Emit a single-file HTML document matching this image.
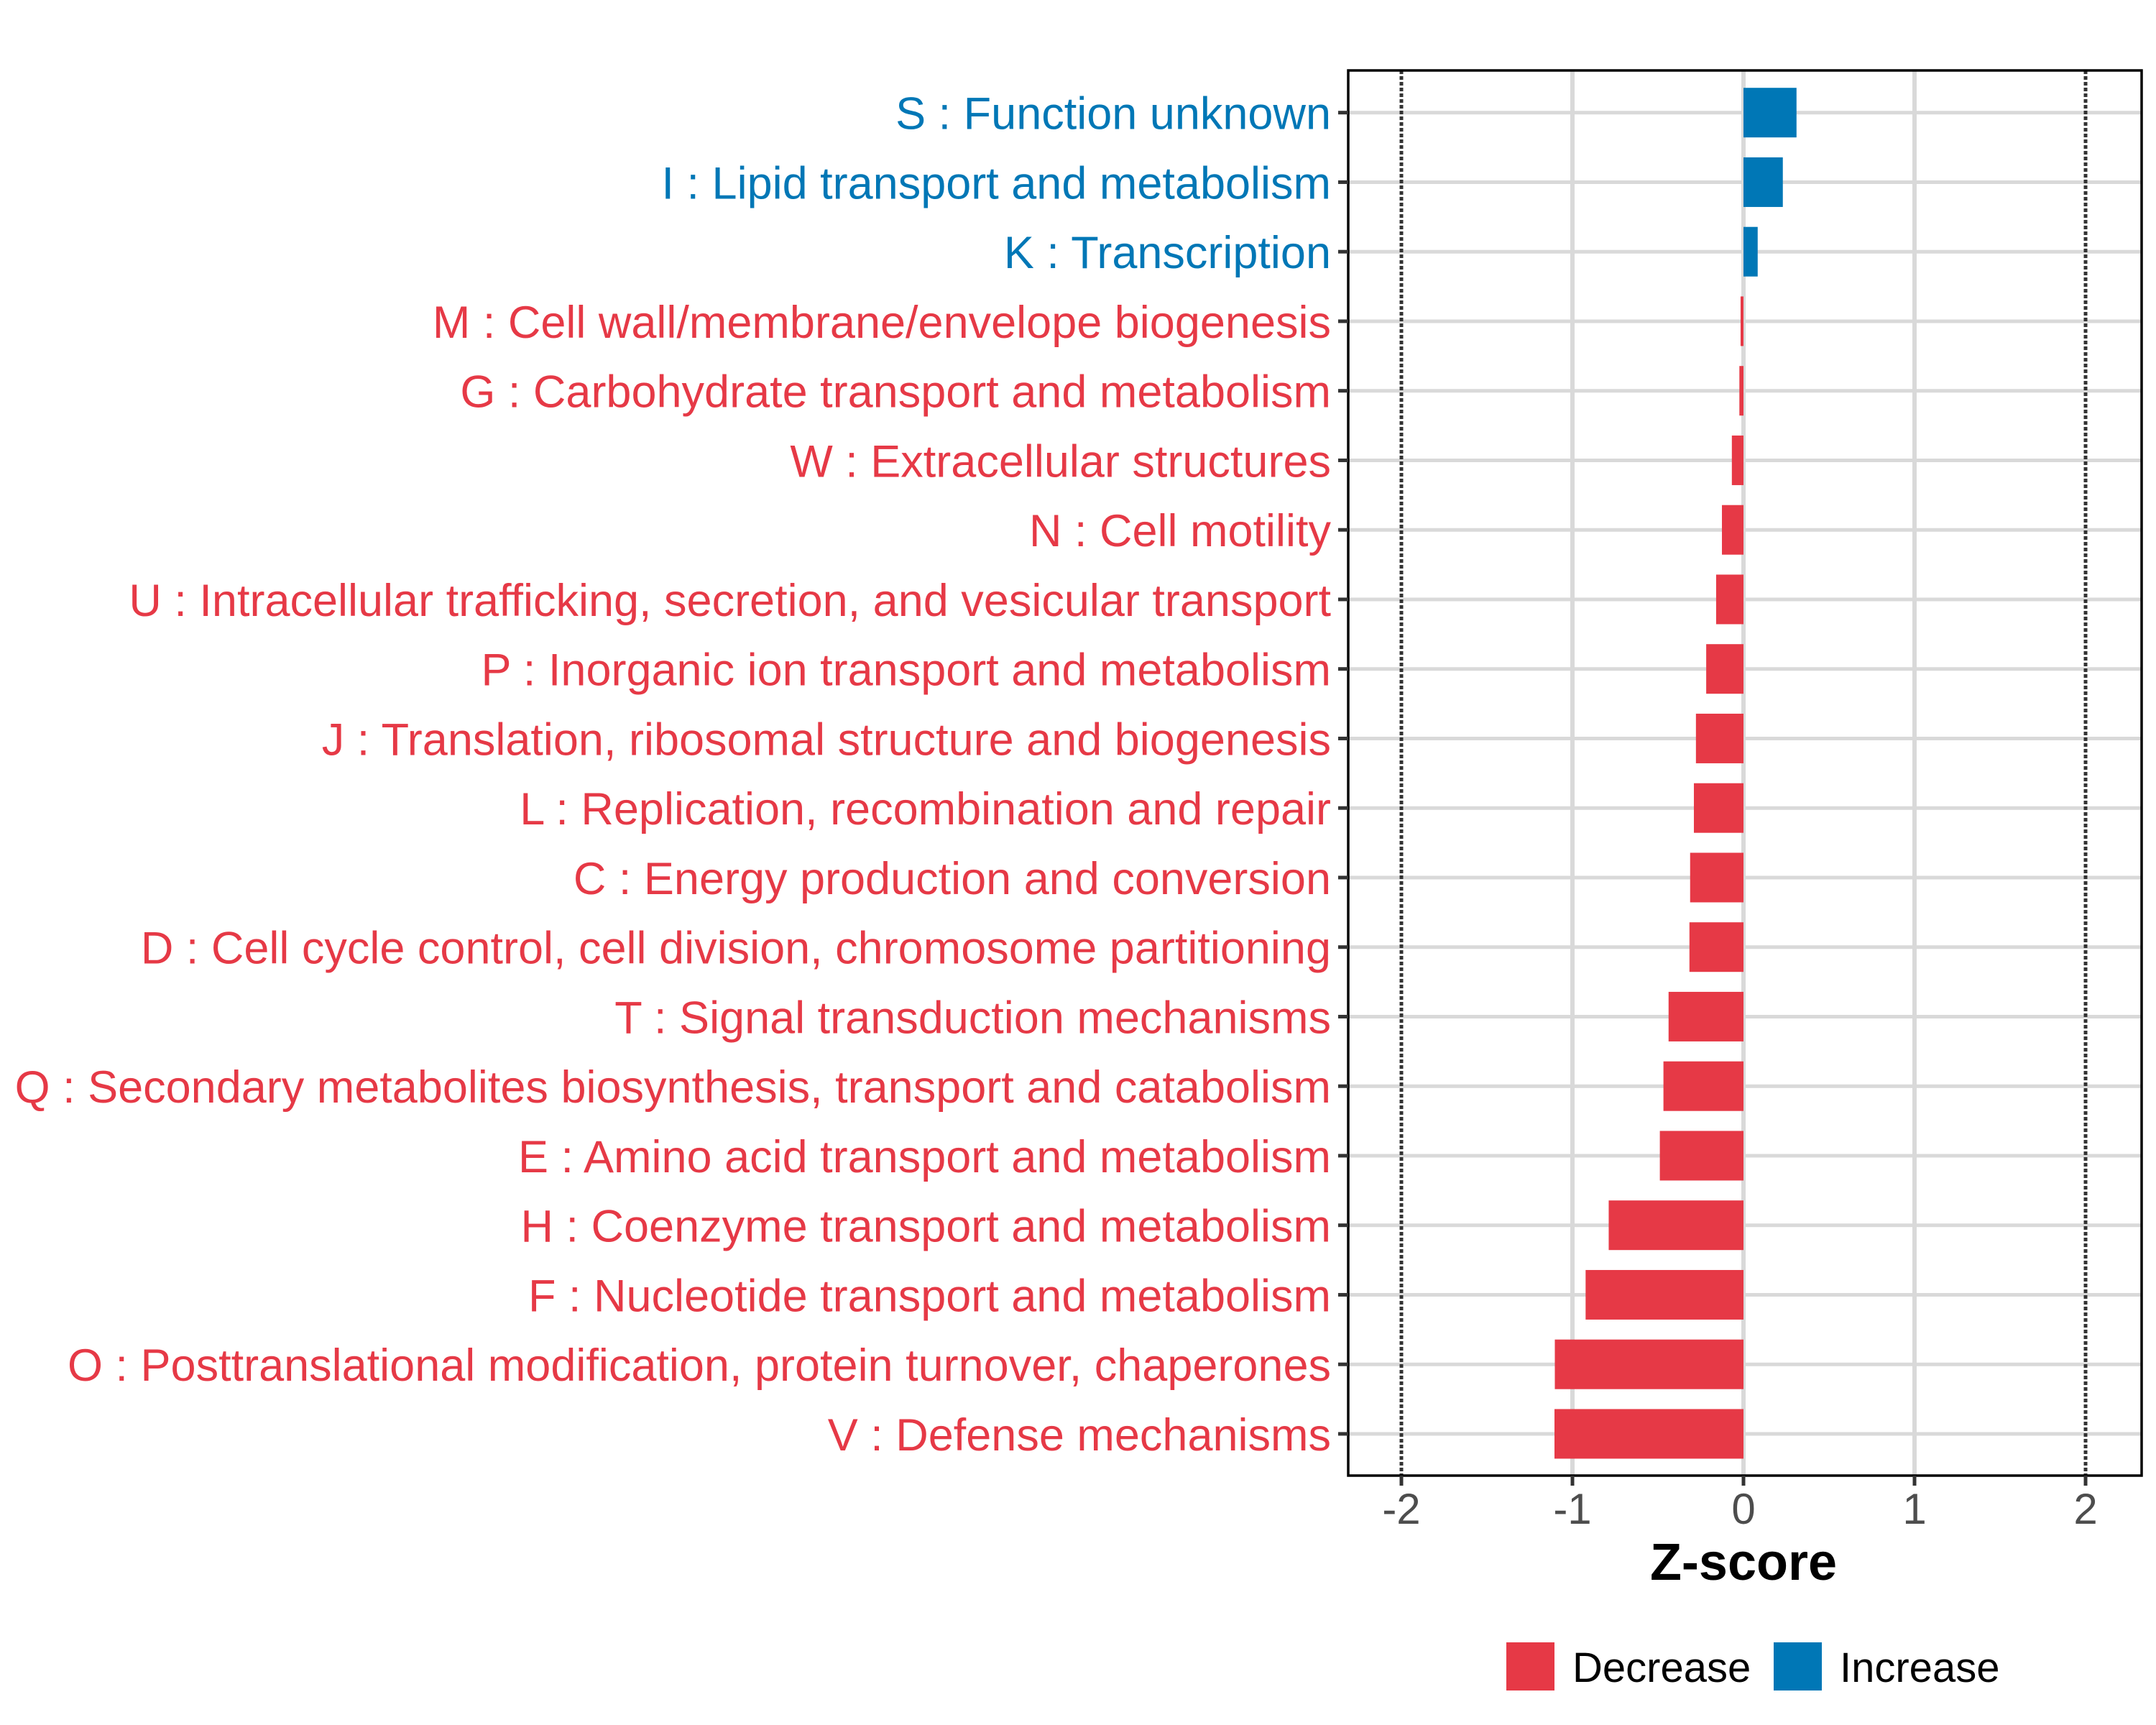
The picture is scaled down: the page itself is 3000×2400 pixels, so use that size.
<!DOCTYPE html>
<html><head><meta charset="utf-8">
<style>
html,body{margin:0;padding:0;background:#fff;}
svg{display:block;font-family:"Liberation Sans",Arial,sans-serif;}
</style></head>
<body>
<svg id="chart" width="3000" height="2400" viewBox="0 0 3000 2400" xmlns="http://www.w3.org/2000/svg">
  <rect x="0" y="0" width="3000" height="2400" fill="#fff"/>
  <g id="grid"></g>
  <g id="bars"></g>
  <g id="refs"></g>
  <rect x="1876" y="98" width="1104" height="1955" fill="none" stroke="#000" stroke-width="3.5"/>
  <g id="yaxis"></g>
  <g id="xaxis"></g>
  <text x="2426" y="2198" font-size="72" font-weight="bold" text-anchor="middle" fill="#000">Z-score</text>
  <g>
    <g>
      <rect x="2096" y="2285" width="67" height="67" fill="#E63946"/>
      <text x="2188" y="2340" font-size="58" fill="#000">Decrease</text>
    </g>
    <g>
      <rect x="2468" y="2285" width="67" height="67" fill="#0077B6"/>
      <text x="2560" y="2340" font-size="58" fill="#000">Increase</text>
    </g>
  </g>
</svg>
<script>
const categories = [
  "S : Function unknown",
  "I : Lipid transport and metabolism",
  "K : Transcription",
  "M : Cell wall/membrane/envelope biogenesis",
  "G : Carbohydrate transport and metabolism",
  "W : Extracellular structures",
  "N : Cell motility",
  "U : Intracellular trafficking, secretion, and vesicular transport",
  "P : Inorganic ion transport and metabolism",
  "J : Translation, ribosomal structure and biogenesis",
  "L : Replication, recombination and repair",
  "C : Energy production and conversion",
  "D : Cell cycle control, cell division, chromosome partitioning",
  "T : Signal transduction mechanisms",
  "Q : Secondary metabolites biosynthesis, transport and catabolism",
  "E : Amino acid transport and metabolism",
  "H : Coenzyme transport and metabolism",
  "F : Nucleotide transport and metabolism",
  "O : Posttranslational modification, protein turnover, chaperones",
  "V : Defense mechanisms"
];
const zscores = [0.31, 0.23, 0.083, -0.017, -0.024, -0.068, -0.126, -0.16, -0.218, -0.278, -0.29, -0.312, -0.316, -0.438, -0.468, -0.489, -0.788, -0.923, -1.103, -1.105];
const xTicks = [-2, -1, 0, 1, 2];
const xTickLabels = ["-2", "-1", "0", "1", "2"];
const refLines = [-2, 2];

const NS = "http://www.w3.org/2000/svg";
const panelL = 1876, panelR = 2980, panelT = 98, panelB = 2053;
const x0px = 2426, unitPx = 238;
function xScale(v){ return x0px + v * unitPx; }
const rowTop = 156.7, rowStep = 96.75;
function yScale(i){ return rowTop + i * rowStep; }
const barH = 69;
const RED = "#E63946", BLUE = "#0077B6";

function mk(tag, attrs, parent){
  const e = document.createElementNS(NS, tag);
  for (const k in attrs) e.setAttribute(k, attrs[k]);
  parent.appendChild(e);
  return e;
}
const grid = document.getElementById('grid');
const bars = document.getElementById('bars');
const refs = document.getElementById('refs');
const yaxis = document.getElementById('yaxis');
const xaxis = document.getElementById('xaxis');

xTicks.forEach(function(t){
  if (refLines.indexOf(t) >= 0) return;
  const l = mk('line', {x1: xScale(t), x2: xScale(t), y1: panelT, y2: panelB, stroke: '#d9d9d9', 'stroke-width': 6}, grid);
  
  
});
categories.forEach(function(c, i){
  const l = mk('line', {x1: panelL, x2: panelR, y1: yScale(i), y2: yScale(i), stroke: '#d9d9d9', 'stroke-width': 5}, grid);
  
  
});
categories.forEach(function(c, i){
  const v = zscores[i];
  const xa = xScale(Math.min(0, v)), xb = xScale(Math.max(0, v));
  const r = mk('rect', {x: xa, y: yScale(i) - barH/2, width: Math.max(xb - xa, 1), height: barH, fill: v >= 0 ? BLUE : RED}, bars);
  
  
});
refLines.forEach(function(t){
  const l = mk('line', {x1: xScale(t), x2: xScale(t), y1: panelT, y2: panelB, stroke: '#333', 'stroke-width': 5, 'stroke-dasharray': '5 3'}, refs);
  
  
});
categories.forEach(function(c, i){
  const y = yScale(i);
  const tk = mk('line', {x1: panelL - 14, x2: panelL, y1: y, y2: y, stroke: '#333', 'stroke-width': 5}, yaxis);
  
  
  const t = mk('text', {x: 1852, y: y + 23, 'font-size': 63, 'text-anchor': 'end', fill: zscores[i] >= 0 ? BLUE : RED}, yaxis);
  t.textContent = c;
  
  
});
xTicks.forEach(function(t, i){
  const x = xScale(t);
  const tk = mk('line', {x1: x, x2: x, y1: panelB, y2: panelB + 14, stroke: '#333', 'stroke-width': 5}, xaxis);
  
  
  const lb = mk('text', {x: x, y: 2120, 'font-size': 60, 'text-anchor': 'middle', fill: '#4d4d4d'}, xaxis);
  lb.textContent = xTickLabels[i];
  
  
});
</script>
</body></html>
